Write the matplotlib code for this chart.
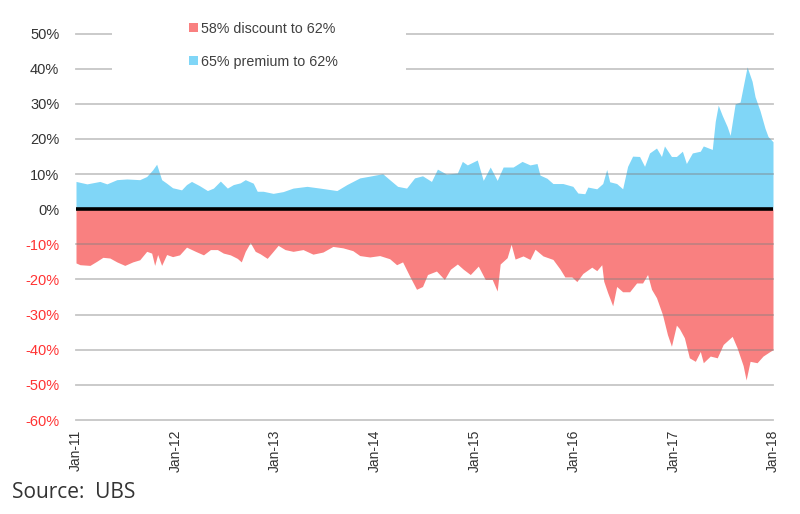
import matplotlib
matplotlib.use("Agg")
import matplotlib.pyplot as plt
from matplotlib.patches import Patch, Rectangle

# ---- data (decimal year, % premium / discount) ----
prem_t = [2011.00, 2011.11, 2011.24, 2011.31, 2011.41, 2011.51, 2011.64, 2011.71, 2011.77, 2011.81,
          2011.86, 2011.91, 2011.97, 2012.06, 2012.11, 2012.16, 2012.24, 2012.32, 2012.38, 2012.45,
          2012.52, 2012.58, 2012.65, 2012.70, 2012.78, 2012.82, 2012.88, 2012.98, 2013.08, 2013.18,
          2013.32, 2013.45, 2013.62, 2013.72, 2013.85, 2013.95, 2014.08, 2014.15, 2014.23, 2014.32,
          2014.40, 2014.48, 2014.57, 2014.63, 2014.72, 2014.83, 2014.88, 2014.93, 2015.03, 2015.09,
          2015.16, 2015.23, 2015.29, 2015.39, 2015.48, 2015.56, 2015.63, 2015.66, 2015.73, 2015.79,
          2015.89, 2015.99, 2016.04, 2016.11, 2016.14, 2016.23, 2016.29, 2016.33, 2016.36, 2016.43,
          2016.49, 2016.54, 2016.59, 2016.66, 2016.71, 2016.76, 2016.83, 2016.88, 2016.91, 2016.98,
          2017.03, 2017.09, 2017.13, 2017.19, 2017.27, 2017.30, 2017.39, 2017.42, 2017.45, 2017.49,
          2017.54, 2017.57, 2017.62, 2017.67, 2017.70, 2017.74, 2017.79, 2017.82, 2017.87, 2017.92,
          2017.95, 2018.00]
prem_v = [7.9, 7.2, 7.9, 7.2, 8.4, 8.6, 8.4, 9.3, 11.2, 12.8,
          8.4, 7.4, 6.1, 5.5, 7.0, 7.9, 6.7, 5.3, 6.0, 8.0,
          6.0, 7.0, 7.5, 8.4, 7.4, 5.1, 5.1, 4.5, 5.0, 6.0,
          6.5, 6.0, 5.3, 7.0, 8.9, 9.4, 10.1, 8.4, 6.5, 6.0,
          8.9, 9.5, 7.9, 11.4, 10.0, 10.3, 13.6, 12.6, 14.0, 8.2,
          12.0, 8.2, 12.0, 12.0, 13.6, 12.6, 13.0, 9.7, 8.8, 7.3,
          7.3, 6.5, 4.6, 4.4, 6.3, 5.8, 7.3, 11.3, 7.8, 7.3,
          5.8, 12.2, 15.1, 15.0, 12.2, 16.0, 17.4, 15.0, 18.0, 15.0,
          15.0, 16.5, 13.0, 16.0, 16.5, 18.0, 17.0, 25.0, 29.6, 26.7,
          23.5, 21.0, 30.0, 30.5, 34.8, 40.5, 36.4, 32.0, 28.0, 23.0,
          20.7, 19.2]

disc_t = [2011.00, 2011.04, 2011.14, 2011.21, 2011.27, 2011.34, 2011.41, 2011.49, 2011.57, 2011.64,
          2011.71, 2011.76, 2011.79, 2011.82, 2011.86, 2011.91, 2011.97, 2012.04, 2012.11, 2012.20,
          2012.28, 2012.35, 2012.42, 2012.48, 2012.55, 2012.62, 2012.66, 2012.70, 2012.75, 2012.80,
          2012.85, 2012.92, 2012.98, 2013.03, 2013.10, 2013.18, 2013.28, 2013.38, 2013.48, 2013.58,
          2013.68, 2013.78, 2013.85, 2013.95, 2014.05, 2014.15, 2014.22, 2014.28, 2014.35, 2014.42,
          2014.48, 2014.53, 2014.62, 2014.70, 2014.76, 2014.83, 2014.89, 2014.96, 2015.04, 2015.11,
          2015.18, 2015.23, 2015.26, 2015.33, 2015.37, 2015.41, 2015.49, 2015.56, 2015.61, 2015.69,
          2015.79, 2015.86, 2015.91, 2015.98, 2016.03, 2016.09, 2016.18, 2016.23, 2016.28, 2016.30,
          2016.34, 2016.39, 2016.43, 2016.49, 2016.56, 2016.63, 2016.69, 2016.74, 2016.78, 2016.83,
          2016.89, 2016.94, 2016.98, 2017.03, 2017.06, 2017.11, 2017.16, 2017.22, 2017.27, 2017.30,
          2017.37, 2017.44, 2017.50, 2017.59, 2017.64, 2017.70, 2017.73, 2017.77, 2017.84, 2017.90,
          2017.97, 2018.00]
disc_v = [-15.3, -15.8, -16.0, -14.8, -13.7, -13.9, -15.0, -16.0, -15.0, -14.4,
          -12.0, -12.5, -16.0, -12.9, -16.0, -12.9, -13.5, -13.0, -10.8, -12.0,
          -13.0, -11.5, -11.5, -12.5, -13.0, -14.0, -15.0, -12.0, -9.5, -12.0,
          -12.7, -14.0, -12.0, -10.3, -11.5, -12.0, -11.5, -12.8, -12.2, -10.6,
          -11.0, -11.8, -13.2, -13.6, -13.2, -14.1, -15.8, -15.0, -19.0, -22.8,
          -22.0, -18.6, -17.6, -20.0, -17.1, -15.6, -17.1, -18.6, -16.2, -20.0,
          -20.0, -23.3, -15.6, -13.8, -10.0, -14.2, -13.3, -14.3, -11.4, -13.3,
          -14.3, -17.0, -19.3, -19.3, -20.6, -18.3, -16.5, -17.5, -15.8, -20.5,
          -23.8, -27.5, -22.0, -23.5, -23.5, -21.0, -21.0, -18.6, -22.8, -25.2,
          -30.0, -35.7, -39.0, -33.0, -34.0, -36.6, -42.3, -43.3, -40.5, -43.7,
          -41.8, -42.3, -38.5, -36.2, -39.5, -44.5, -48.6, -43.3, -43.7, -41.8,
          -40.5, -40.0]

year_ticks = [2011, 2012, 2013, 2014, 2015, 2016, 2017, 2018]
year_labels = ["Jan-11", "Jan-12", "Jan-13", "Jan-14", "Jan-15", "Jan-16", "Jan-17", "Jan-18"]
y_ticks = [-60, -50, -40, -30, -20, -10, 0, 10, 20, 30, 40, 50]
series_labels = ["58% discount to 62%", "65% premium to 62%"]

RED = "#f98080"
BLUE = "#80d6f7"
FONT = ["Liberation Sans", "DejaVu Sans"]

plt.rcParams["font.family"] = FONT

fig = plt.figure(figsize=(8.0, 5.14), dpi=100)
ax = fig.add_axes([76 / 800, 1 - 420 / 514, 697 / 800, (420 - 33.5) / 514])

ax.fill_between(prem_t, 0, prem_v, color=BLUE, lw=0, zorder=1)
ax.fill_between(disc_t, 0, disc_v, color=RED, lw=0, zorder=1)

for yv in y_ticks:
    if yv != 0:
        ax.axhline(yv, color="#808080", alpha=0.45, lw=1.3, zorder=2, clip_on=False)
ax.axhline(0, color="black", lw=2.6, zorder=3)

ax.set_xlim(2011, 2018)
ax.set_ylim(-60, 50)
for s in ax.spines.values():
    s.set_visible(False)

ax.set_yticks(y_ticks)
ax.set_yticklabels([f"{v}%" for v in y_ticks])
for lab, v in zip(ax.get_yticklabels(), y_ticks):
    lab.set_color("#ff3333" if v < 0 else "#333333")
ax.tick_params(axis="y", length=0, pad=12, labelsize=10.5)

ax.set_xticks(year_ticks)
ax.set_xticklabels(year_labels, rotation=90, va="top", ha="center")
ax.tick_params(axis="x", length=0, pad=7, labelsize=10, labelcolor="#333333")

# white box behind legend hiding gridlines
fig.patches.append(Rectangle((112 / 800, 1 - 84 / 514), 294 / 800, 74 / 514,
                             transform=fig.transFigure, facecolor="white",
                             edgecolor="none", zorder=4))

handles = [Patch(facecolor=RED, edgecolor="none"), Patch(facecolor=BLUE, edgecolor="none")]
leg = fig.legend(handles, series_labels, loc="upper left",
                 bbox_to_anchor=(189 / 800, 1 - 22 / 514), frameon=False,
                 handlelength=0.6, handleheight=0.6, handletextpad=0.25,
                 labelspacing=1.3, borderpad=0, borderaxespad=0,
                 fontsize=10.3, labelcolor="#404040")
leg.set_zorder(5)

fig.text(12 / 800, 1 - 493 / 514, "Source:  UBS", ha="left", va="center",
         fontsize=15, color="#333333", family=["Open Sans", "DejaVu Sans"])

fig.savefig("out.png", dpi=100)
